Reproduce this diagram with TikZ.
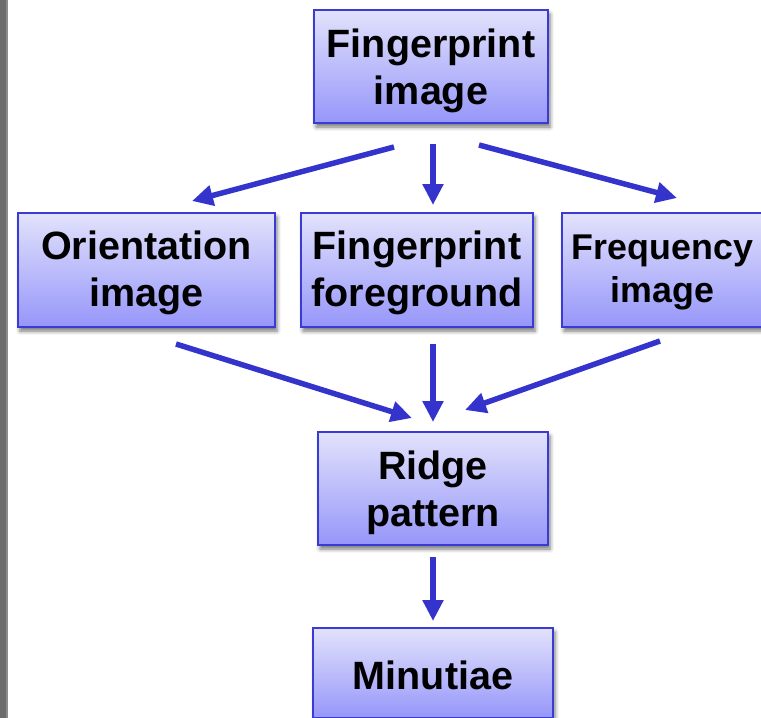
\documentclass[tikz,border=0pt]{standalone}
\usepackage{fontspec}
\setmainfont{Liberation Sans}
\usetikzlibrary{arrows.meta,shadows.blur}
\definecolor{arrowblue}{RGB}{52,52,204}
\definecolor{boxborder}{RGB}{58,58,212}
\definecolor{boxtop}{RGB}{226,226,252}
\definecolor{boxbot}{RGB}{150,150,250}
\tikzset{
  flowbox/.style={draw=boxborder, line width=1.6pt, rectangle,
    top color=boxtop, bottom color=boxbot, inner sep=0pt,
    blur shadow={shadow xshift=2pt, shadow yshift=-4pt, shadow blur radius=4pt, shadow opacity=55}},
  boxtext/.style={align=center, inner sep=0pt,
    font=\fontsize{39.5}{47}\selectfont\bfseries},
  smalltext/.style={align=center, inner sep=0pt,
    font=\fontsize{35.8}{43}\selectfont\bfseries},
  flowarrow/.style={draw=arrowblue, line width=5.5pt,
    -{Triangle[length=21pt,width=20pt]}},
}
\begin{document}
\begin{tikzpicture}[x=1pt,y=-1pt]
\useasboundingbox (0,0) rectangle (761,718);
\clip (0,0) rectangle (761,718);
% left gray bar
\fill[gray!85!black] (0,0) rectangle (5.5,718);
\fill[gray!90] (5.5,0) rectangle (7.5,718);

\node[flowbox, minimum width=234pt, minimum height=113pt] (fp) at (431,66.5) {};
\node[flowbox, minimum width=257pt, minimum height=114pt] (ori) at (146.5,270) {};
\node[flowbox, minimum width=232pt, minimum height=114pt] (fg) at (417,270) {};
\node[flowbox, minimum width=230pt, minimum height=114pt] (fq) at (677,270) {};
\node[flowbox, minimum width=230pt, minimum height=113pt] (rp) at (433,488.5) {};
\node[flowbox, minimum width=240pt, minimum height=90pt] (mn) at (433,673) {};

\node[boxtext, yshift=-4pt] (fpt) at (fp.center) {Fingerprint\\image};
\node[boxtext, yshift=-3pt] (orit) at (ori.center) {Orientation\\image};
\node[boxtext, yshift=-3pt] (fgt) at (fg.center) {Fingerprint\\foreground};
\node[smalltext, yshift=-2pt, xshift=-14.5pt] (fqt) at (fq.center) {Frequency\\image};
\node[boxtext, yshift=-4pt] (rpt) at (rp.center) {Ridge\\pattern};
\node[boxtext, yshift=-2pt] (mnt) at (mn.center) {Minutiae};

% arrow end points
\coordinate (a1s) at (394,147);
\coordinate (a1e) at (192,201);
\coordinate (a2s) at (433,144);
\coordinate (a2e) at (433,205);
\coordinate (a3s) at (479,145);
\coordinate (a3e) at (677,198);
\coordinate (b1s) at (176,344);
\coordinate (b1e) at (412,418);
\coordinate (b2s) at (433,344);
\coordinate (b2e) at (433,422);
\coordinate (b3s) at (660,341);
\coordinate (b3e) at (465,410);
\coordinate (c1s) at (433,557);
\coordinate (c1e) at (433,621);

\draw[flowarrow] (a1s) -- (a1e);
\draw[flowarrow] (a2s) -- (a2e);
\draw[flowarrow] (a3s) -- (a3e);
\draw[flowarrow] (b1s) -- (b1e);
\draw[flowarrow] (b2s) -- (b2e);
\draw[flowarrow] (b3s) -- (b3e);
\draw[flowarrow] (c1s) -- (c1e);
\end{tikzpicture}
\end{document}
